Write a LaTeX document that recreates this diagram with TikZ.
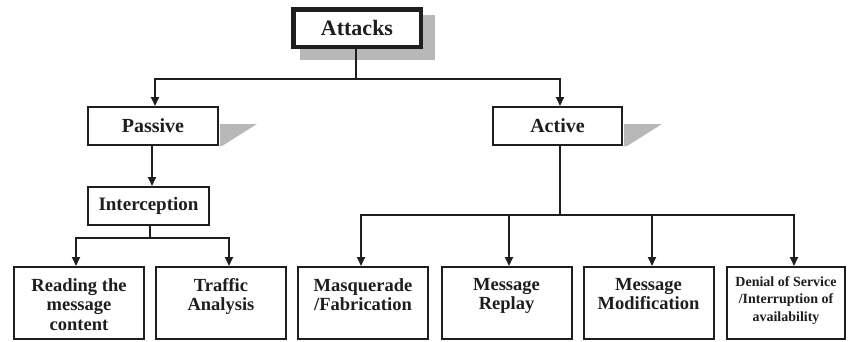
\documentclass[tikz,border=0pt]{standalone}
\usepackage{fontspec}
\setmainfont{Liberation Serif}
\usetikzlibrary{arrows.meta}
\definecolor{ink}{HTML}{1E1E1E}
\definecolor{shadowgray}{HTML}{B8B8B8}
\begin{document}
\begin{tikzpicture}[x=1pt,y=-1pt,
  box/.style={draw=ink, line width=2pt, fill=white, inner sep=0pt, text=ink},
  leaf/.style={box, minimum width=130pt, minimum height=72pt},
  lbl/.style={inner sep=0pt, align=center, anchor=north, text=ink,
    font=\bfseries\fontsize{18.5}{19.5}\selectfont},
  link/.style={draw=ink, line width=1.8pt},
  arr/.style={link, -{Triangle[width=8pt,length=9pt]}},
  shade/.style={fill=shadowgray, draw=none}]
\useasboundingbox (0,0) rectangle (848,341);

% drop shadows
\fill[shade] (300,15) rectangle (435,60);
\fill[shade] (220,124) -- (257,124) -- (222,146) -- (220,146) -- cycle;
\fill[shade] (624,124) -- (662,124) -- (627,146) -- (624,146) -- cycle;

% root
\node[box, line width=4.5pt, minimum width=127.5pt, minimum height=37.5pt,
  font=\bfseries\fontsize{22}{24}\selectfont] (atk) at (357,28) {Attacks};

% second level
\node[box, minimum width=130pt, minimum height=38pt,
  font=\bfseries\fontsize{20}{22}\selectfont] (pas) at (153,126) {Passive};
\node[box, minimum width=129pt, minimum height=38pt,
  font=\bfseries\fontsize{20}{22}\selectfont] (act) at (557.5,126) {Active};

% interception
\node[box, minimum width=121pt, minimum height=38pt,
  font=\bfseries\fontsize{19}{21}\selectfont] (int) at (148.5,206) {Interception};

% leaves
\node[leaf] (rd) at (79,303) {};
\node[leaf] (tr) at (221,303) {};
\node[leaf] (mq) at (363,303) {};
\node[leaf] (rp) at (506.5,303) {};
\node[leaf] (md) at (648.5,303) {};
\node[leaf, minimum width=118pt] (dos) at (786,303) {};

\node[lbl] (rd-t) at ([yshift=-12pt]rd.north) {Reading the\\message\\content};
\node[lbl] (tr-t) at ([yshift=-12pt]tr.north) {Traffic\\Analysis};
\node[lbl] (mq-t) at ([yshift=-12pt]mq.north) {Masquerade\\/Fabrication};
\node[lbl] (rp-t) at ([yshift=-12pt]rp.north) {Message\\Replay};
\node[lbl] (md-t) at ([yshift=-12pt]md.north) {Message\\Modification};
\node[lbl, font=\bfseries\fontsize{14}{17.5}\selectfont] (dos-t)
  at ([yshift=-10pt]dos.north) {Denial of Service\\/Interruption of\\availability};

% junction points
\coordinate (top-bus) at ([xshift=-1pt]atk.south |- 0,79);
\coordinate (int-bus) at ([xshift=1.5pt]int.south |- 0,238);
\coordinate (act-bus) at ([xshift=2.5pt]act.south |- 0,215);

% connectors
\draw[link] ([xshift=-1pt]atk.south) -- (top-bus);
\draw[arr] (top-bus) -| ([xshift=2pt]pas.north);
\draw[arr] (top-bus) -| ([xshift=2.5pt]act.north);

\draw[arr] ([xshift=-1pt]pas.south) -- ([xshift=-1pt]pas.south |- int.north);

\draw[link] ([xshift=1.5pt]int.south) -- (int-bus);
\draw[arr] (int-bus) -| ([xshift=-3pt]rd.north);
\draw[arr] (int-bus) -| ([xshift=8pt]tr.north);

\draw[link] ([xshift=2.5pt]act.south) -- (act-bus);
\draw[arr] (act-bus) -| ([xshift=-2pt]mq.north);
\draw[arr] (act-bus) -| ([xshift=2.5pt]rp.north);
\draw[arr] (act-bus) -| ([xshift=3.5pt]md.north);
\draw[arr] (act-bus) -| ([xshift=8pt]dos.north);
\end{tikzpicture}
\end{document}
